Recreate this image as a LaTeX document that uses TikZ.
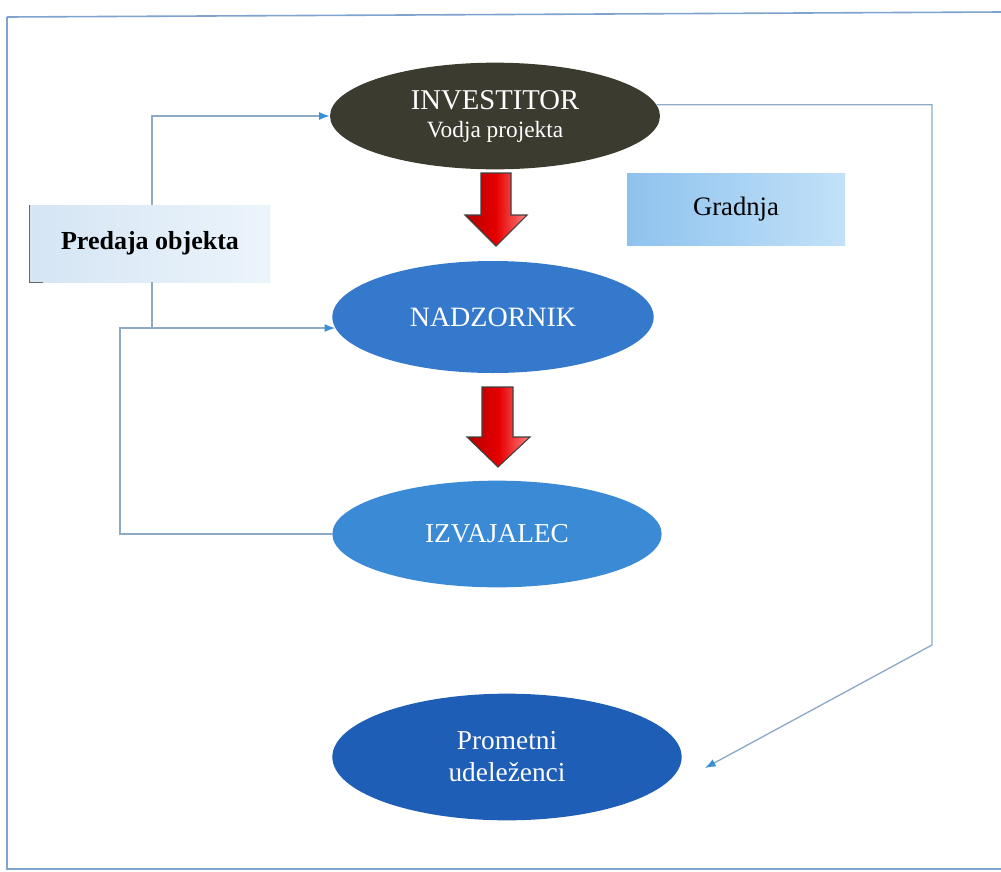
\documentclass[tikz,border=0pt]{standalone}
\usepackage{fontspec}
\setmainfont{Liberation Serif}
\usetikzlibrary{shapes.geometric,arrows.meta}
\definecolor{framec}{HTML}{7FA3CF}
\definecolor{linec}{HTML}{8EA9C8}
\definecolor{tipc}{HTML}{3A8FD8}
\definecolor{invc}{HTML}{3C3B30}
\definecolor{nadc}{HTML}{3479CC}
\definecolor{izvc}{HTML}{3A8AD6}
\definecolor{proc}{HTML}{1F5EB6}
\definecolor{gradl}{HTML}{8EC2EE}
\definecolor{gradr}{HTML}{C2E1F8}
\definecolor{predl}{HTML}{D5E5F4}
\definecolor{predr}{HTML}{ECF4FB}
\tikzset{
  oval/.style={ellipse, inner sep=0pt, text=white, align=center, font=\fontsize{20.5}{24}\selectfont},
  conn/.style={draw=linec, line width=1pt, -{Latex[length=8pt,width=6pt,color=tipc,fill=tipc]}},
  plain/.style={draw=linec, line width=1pt},
  bigarrow/.style={draw=black!75, line width=0.8pt, left color=red!70!black, right color=red!50!white, middle color=red!90!black},
}
\begin{document}
\begin{tikzpicture}[x=0.75pt,y=-0.75pt]
\useasboundingbox (0,0) rectangle (1001,872);
% frame
\draw[framec, line width=1.2pt] (7,17) -- (1001,12);
\draw[framec, line width=1pt] (7,17) -- (7,869) -- (1001,869);
% boxes
\node[draw=none, left color=predl, right color=predr, minimum width=180pt, minimum height=57.75pt, inner sep=0pt,
  font=\fontsize{19.5}{23}\selectfont\bfseries] (pred) at (150,243.5) {Predaja objekta};
\draw[black!60, line width=1pt] (pred.north west) -- (pred.south west) -- ([xshift=10pt]pred.south west);
\node[draw=none, left color=gradl, right color=gradr, minimum width=163.5pt, minimum height=54pt, inner sep=0pt,
  font=\fontsize{20}{24}\selectfont] (grad) at (736,209) {Gradnja};
% ellipses
\node[oval, fill=invc, minimum width=247.5pt, minimum height=80pt] (inv) at (495,116) {{\fontsize{21.5}{24}\selectfont INVESTITOR}\\[-3pt]{\fontsize{17.5}{20}\selectfont Vodja projekta}};
\node[oval, fill=nadc, minimum width=241pt, minimum height=84pt, font=\fontsize{21}{24}\selectfont] (nad) at (493,317) {NADZORNIK};
\node[oval, fill=izvc, minimum width=247pt, minimum height=80pt] (izv) at (497,534) {IZVAJALEC};
\node[oval, fill=proc, minimum width=262pt, minimum height=95pt] (pro) at (507,757) {Prometni\\udeleženci};
% red arrows
\draw[bigarrow] (481,173) -- (511,173) -- (511,215) -- (527,215) -- (496,246) -- (465,215) -- (481,215) -- cycle;
\draw[bigarrow] (482,387) -- (513,387) -- (513,437) -- (530,437) -- (498,467) -- (467,437) -- (482,437) -- cycle;
% connectors
\coordinate (cx) at (152,0);
\coordinate (lx) at (120,0);
\coordinate (r1) at (932,645);
\coordinate (r2) at (705,768);
\draw[conn] (pred.north -| cx) |- (inv.west);
\draw[plain] (pred.south -| cx) -- (cx |- nad.184);
\draw[conn] (izv.west) -| (lx |- nad.184) -- (nad.184);
\draw[conn] (inv.4) -| (r1) -- (r2);
\end{tikzpicture}
\end{document}
